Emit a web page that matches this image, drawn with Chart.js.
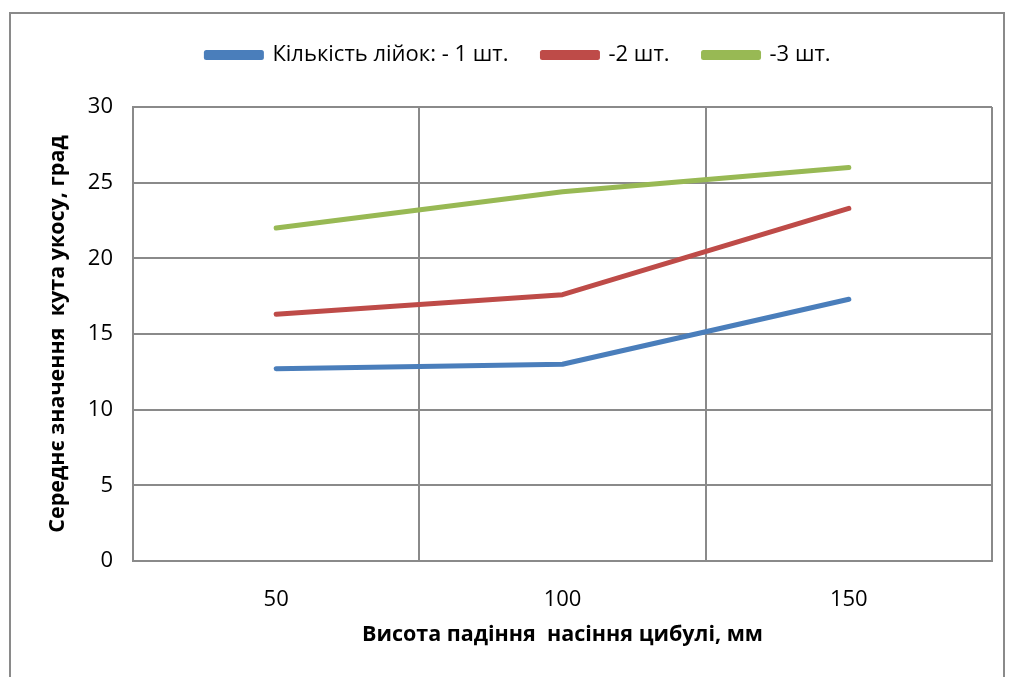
<!DOCTYPE html>
<html>
<head>
<meta charset="utf-8">
<script src="https://cdn.jsdelivr.net/npm/chart.js@4.4.1/dist/chart.umd.min.js"></script>
<style>
  html, body { margin: 0; padding: 0; background: #fff; }
  #wrap { position: relative; width: 1010px; height: 677px; overflow: hidden; }
  #frame { position: absolute; left: 9px; top: 12px; width: 996px; height: 700px; border: 2px solid #8a8a8a; box-sizing: border-box; }
  #c { position: absolute; left: 0; top: 0; }
</style>
</head>
<body>
<div id="wrap">
  <div id="frame"></div>
  <canvas id="c" width="1010" height="677"></canvas>
</div>
<script>
// heights of seed fall, mm
const heights = ['50', '100', '150'];
// mean slope angle, deg
const oneFunnel = [12.7, 13.0, 17.3];
const twoFunnels = [16.3, 17.6, 23.3];
const threeFunnels = [22.0, 24.4, 26.0];
const seriesNames = ['Кількість лійок: - 1 шт.', '-2 шт.', '-3 шт.'];
const seriesColors = ['#4a7ebb', '#be4b48', '#98b954'];

const font = "'Open Sans', sans-serif";
const gridGray = '#8a8a8a';

function line(i, values) {
    return {
        label: seriesNames[i],
        data: values,
        xAxisID: 'x',
        yAxisID: 'y',
        borderColor: seriesColors[i],
        backgroundColor: seriesColors[i],
        borderWidth: 5,
        pointRadius: 0,
        pointHoverRadius: 0,
        tension: 0,
        borderCapStyle: 'round',
        borderJoinStyle: 'round'
    };
}

const chart = new Chart(document.getElementById('c'), {
    type: 'line',
    data: {
        labels: heights,
        datasets: [line(0, oneFunnel), line(1, twoFunnels), line(2, threeFunnels)]
    },
    options: {
        responsive: false,
        animation: false,
        layout: { padding: { left: 45, right: 18, top: 10, bottom: 0 } },
        plugins: {
            tooltip: { enabled: false },
            legend: {
                position: 'top',
                labels: {
                    boxWidth: 55,
                    boxHeight: 5,
                    padding: 34,
                    color: '#000',
                    font: { family: font, size: 22 }
                }
            }
        },
        scales: {
            x: {
                offset: true,
                grid: { offset: true, color: gridGray, lineWidth: 2, drawTicks: false },
                border: { color: gridGray, width: 2 },
                ticks: { color: '#000', padding: 26, font: { family: font, size: 22 } },
                title: {
                    display: true,
                    text: 'Висота падіння  насіння цибулі, мм',
                    color: '#000',
                    padding: { top: 0, bottom: 29 },
                    font: { family: font, size: 21.5, weight: 'bold' }
                },
                afterFit: (s) => { s.height = 116; }
            },
            y: {
                min: 0,
                max: 30,
                ticks: { stepSize: 5, color: '#000', padding: 20, font: { family: font, size: 22 } },
                grid: { color: gridGray, lineWidth: 2, drawTicks: false },
                border: { color: gridGray, width: 2 },
                title: {
                    display: true,
                    text: 'Середнє значення  кута укосу, град',
                    color: '#000',
                    padding: 0,
                    font: { family: font, size: 21.5, weight: 'bold' }
                },
                afterFit: (s) => { s.width = 88; }
            },
            // empty band between legend and plot
            gap: {
                type: 'linear',
                position: 'top',
                grid: { display: false },
                border: { display: false },
                ticks: { display: false },
                afterFit: (s) => { s.height = 31; }
            }
        }
    }
});
</script>
</body>
</html>
